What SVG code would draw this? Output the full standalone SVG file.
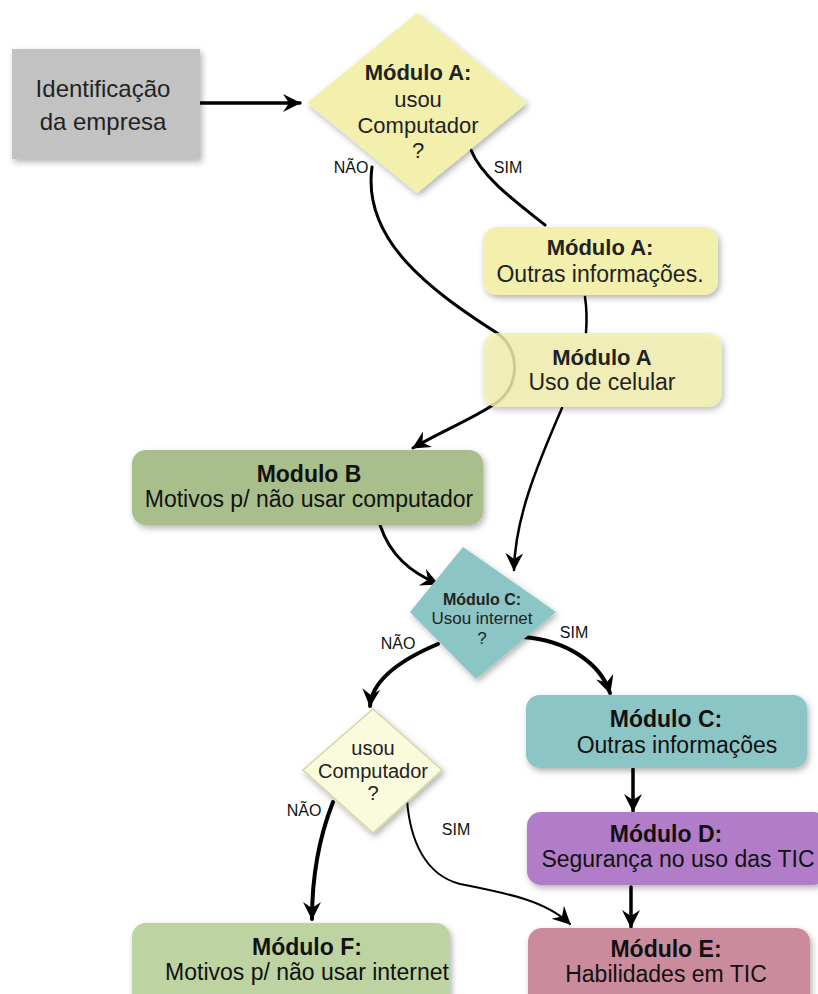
<svg xmlns="http://www.w3.org/2000/svg" width="818" height="994" viewBox="0 0 818 994">
<defs>
<filter id="sh" x="-10%" y="-20%" width="125%" height="150%">
<feDropShadow dx="2" dy="3" stdDeviation="3" flood-color="#000" flood-opacity="0.3"/>
</filter>
<marker id="ah" markerUnits="userSpaceOnUse" markerWidth="20" markerHeight="20" refX="17" refY="9" orient="auto">
<path d="M0,0 L18,9 L0,18 L6,9 z" fill="#000"/>
</marker>
</defs>
<style>
text{font-family:"Liberation Sans",Arial,sans-serif;fill:#222;text-anchor:middle}
.b{font-weight:bold}
.lbl{font-size:16px;fill:#111}
.c{fill:none;stroke:#000;stroke-linecap:round}
.t{font-size:23px;fill:#111}
</style>
<g id="connectors">
<path class="c" d="M200,103 L300,103" stroke-width="3.5" marker-end="url(#ah)"/>
<path class="c" d="M372,167 C362,240 430,290 497,333 C522,350 520,390 493,405 C470,420 440,432 413,448" stroke-width="3" marker-end="url(#ah)"/>
<path class="c" d="M471,150 C482,178 520,205 545,225" stroke-width="3"/>
<path class="c" d="M585,297 C587,310 587,320 586,333" stroke-width="2.5"/>
<path class="c" d="M562,408 C535,470 515,520 514,570" stroke-width="2.5" marker-end="url(#ah)"/>
<path class="c" d="M380,525 C390,555 410,572 438,584" stroke-width="3" marker-end="url(#ah)"/>
<path class="c" d="M438,644 C400,660 372,680 370,706" stroke-width="4" marker-end="url(#ah)"/>
<path class="c" d="M523,637 C565,640 600,662 610,693" stroke-width="4" marker-end="url(#ah)"/>
<path class="c" d="M633,769 L633,811" stroke-width="3.5" marker-end="url(#ah)"/>
<path class="c" d="M631,887 L631,927" stroke-width="3.5" marker-end="url(#ah)"/>
<path class="c" d="M333,802 C318,840 312,880 312,919" stroke-width="4" marker-end="url(#ah)"/>
<path class="c" d="M407,800 C410,840 425,875 460,884 C505,893 545,900 570,924" stroke-width="2" marker-end="url(#ah)"/>
<text class="lbl" x="351" y="173">NÃO</text>
<text class="lbl" x="508" y="173">SIM</text>
<text class="lbl" x="398" y="649">NÃO</text>
<text class="lbl" x="574" y="638">SIM</text>
<text class="lbl" x="304" y="816">NÃO</text>
<text class="lbl" x="456" y="835">SIM</text>
</g>
<g id="identificacao">
<rect x="12" y="49" width="188" height="110" fill="#c2c2c2" filter="url(#sh)"/>
<text x="103" y="97" font-size="24" fill="#333">Identificação</text>
<text x="103" y="130" font-size="24" fill="#333">da empresa</text>
</g>
<g id="modA_decisao">
<polygon points="417,13 527,103 417,193 307,103" fill="#f3f0ae" filter="url(#sh)"/>
<text class="b" x="418" y="80" font-size="22">Módulo A:</text>
<text x="418" y="107" font-size="22">usou</text>
<text x="418" y="133" font-size="22">Computador</text>
<text x="418" y="158" font-size="22">?</text>
</g>
<g id="modA_outras">
<rect x="483" y="227" width="235" height="68" rx="14" fill="#f3f0ae" filter="url(#sh)"/>
<text class="b" x="600" y="255" font-size="22">Módulo A:</text>
<text x="600" y="282" font-size="23">Outras informações.</text>
</g>
<g id="modA_celular">
<rect x="483" y="333" width="239" height="74" rx="14" fill="#f3f0ae" fill-opacity="0.82" filter="url(#sh)"/>
<text class="b" x="602" y="365" font-size="22">Módulo A</text>
<text x="602" y="390" font-size="23">Uso de celular</text>
</g>
<g id="modB">
<rect x="132" y="450" width="351" height="75" rx="14" fill="#a9bf8b" filter="url(#sh)"/>
<text class="b t" x="309" y="482">Modulo B</text>
<text class="t" x="309" y="507">Motivos p/ não usar computador</text>
</g>
<g id="modC_decisao">
<polygon points="463,547 556,612 476,679 410,612" fill="#8cc5c5" filter="url(#sh)"/>
<text class="b" x="482" y="605" font-size="16" fill="#111">Módulo C:</text>
<text x="482" y="624" font-size="17" fill="#111">Usou internet</text>
<text x="482" y="644" font-size="17" fill="#111">?</text>
</g>
<g id="modC_outras">
<rect x="526" y="695" width="281" height="73" rx="14" fill="#8cc5c5" filter="url(#sh)"/>
<text class="b t" x="666" y="727">Módulo C:</text>
<text class="t" x="677" y="753">Outras informações</text>
</g>
<g id="usou_computador">
<polygon points="373,709 442,770 373,833 303,770" fill="#fafadc" stroke="#d6d6a6" stroke-width="1.5" filter="url(#sh)"/>
<text x="373" y="755" font-size="20" fill="#111">usou</text>
<text x="373" y="778" font-size="20" fill="#111">Computador</text>
<text x="373" y="800" font-size="20" fill="#111">?</text>
</g>
<g id="modD">
<rect x="527" y="812" width="300" height="73" rx="14" fill="#b27dc8" filter="url(#sh)"/>
<text class="b t" x="666" y="842">Módulo D:</text>
<text class="t" x="678" y="867">Segurança no uso das TIC</text>
</g>
<g id="modE">
<rect x="528" y="928" width="282" height="80" rx="14" fill="#ca8c9c" filter="url(#sh)"/>
<text class="b t" x="666" y="957">Módulo E:</text>
<text class="t" x="666" y="982">Habilidades em TIC</text>
</g>
<g id="modF">
<rect x="132" y="923" width="318" height="85" rx="14" fill="#bdd4a2" filter="url(#sh)"/>
<text class="b t" x="307" y="955">Módulo F:</text>
<text class="t" x="307" y="980">Motivos p/ não usar internet</text>
</g>
</svg>
